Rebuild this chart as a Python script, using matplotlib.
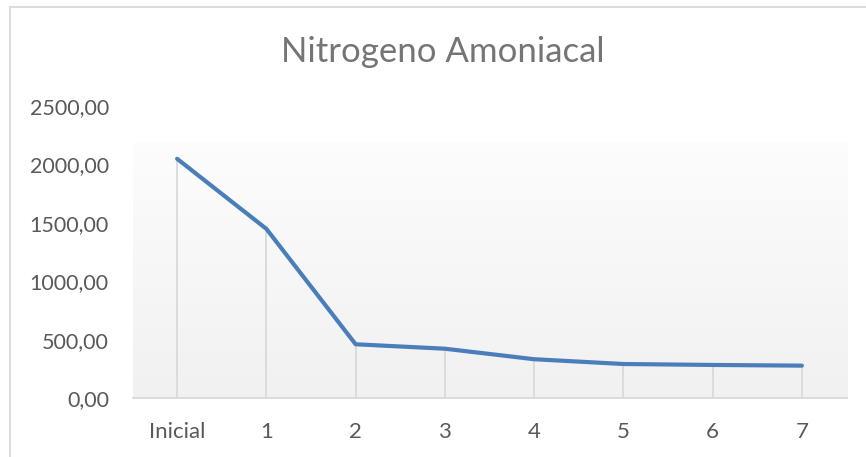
import matplotlib

matplotlib.use("Agg")
import matplotlib.pyplot as plt
import numpy as np
from matplotlib.lines import Line2D

categories = ["Inicial", "1", "2", "3", "4", "5", "6", "7"]
nitrogeno = [2048, 1448, 460, 422, 332, 291, 283, 277]
y_ticks = [0, 500, 1000, 1500, 2000, 2500]
y_tick_labels = ["0,00", "500,00", "1000,00", "1500,00", "2000,00", "2500,00"]

LINE_BLUE = "#4a7ebb"
TEXT_GREY = "#595959"
RULE_GREY = "#d9d9d9"

plt.rcParams["font.family"] = ["Lato", "DejaVu Sans"]

fig = plt.figure(figsize=(8.66, 4.57), dpi=100)
fig.patch.set_facecolor("#ffffff")
ax = fig.add_axes([132.5 / 866, 59 / 457, 714 / 866, 292 / 457])
ax.set_facecolor("#ffffff")

x = np.arange(len(categories))
ax.set_xlim(-0.5, len(categories) - 0.5)
ax.set_ylim(0, 2500)

# plot area fill: soft vertical gradient, stops a bit below the top tick
shade = np.linspace(0.99, 0.945, 64).reshape(-1, 1)
ax.imshow(
    np.dstack([shade, shade, shade]),
    extent=(-0.5, len(categories) - 0.5, 0, 2185),
    aspect="auto",
    origin="upper",
    zorder=0,
)

ax.vlines(x, 0, nitrogeno, color=RULE_GREY, linewidth=1.3, zorder=1)
ax.plot(x, nitrogeno, color=LINE_BLUE, linewidth=3.0, solid_capstyle="round",
        solid_joinstyle="round", zorder=3)

ax.set_xticks(x)
ax.set_xticklabels(categories)
ax.set_yticks(y_ticks)
ax.set_yticklabels(y_tick_labels)
ax.tick_params(axis="x", length=0, pad=17, labelsize=16, labelcolor=TEXT_GREY)
ax.tick_params(axis="y", length=0, pad=17, labelsize=15.5, labelcolor=TEXT_GREY)
for side in ("top", "right", "left"):
    ax.spines[side].set_visible(False)
ax.spines["bottom"].set_color(RULE_GREY)
ax.spines["bottom"].set_linewidth(1.3)

fig.text(443 / 866, 1 - 52 / 457, "Nitrogeno Amoniacal", ha="center", va="center",
         fontsize=25, color="#757575")

# chart frame (only left and top edges fall inside the crop)
fig.add_artist(Line2D([10 / 866, 10 / 866], [0, 1 - 7 / 457], color=RULE_GREY, linewidth=1.3))
fig.add_artist(Line2D([10 / 866, 1], [1 - 7 / 457, 1 - 7 / 457], color=RULE_GREY, linewidth=1.3))

fig.savefig("out.png", dpi=100, facecolor=fig.get_facecolor())
